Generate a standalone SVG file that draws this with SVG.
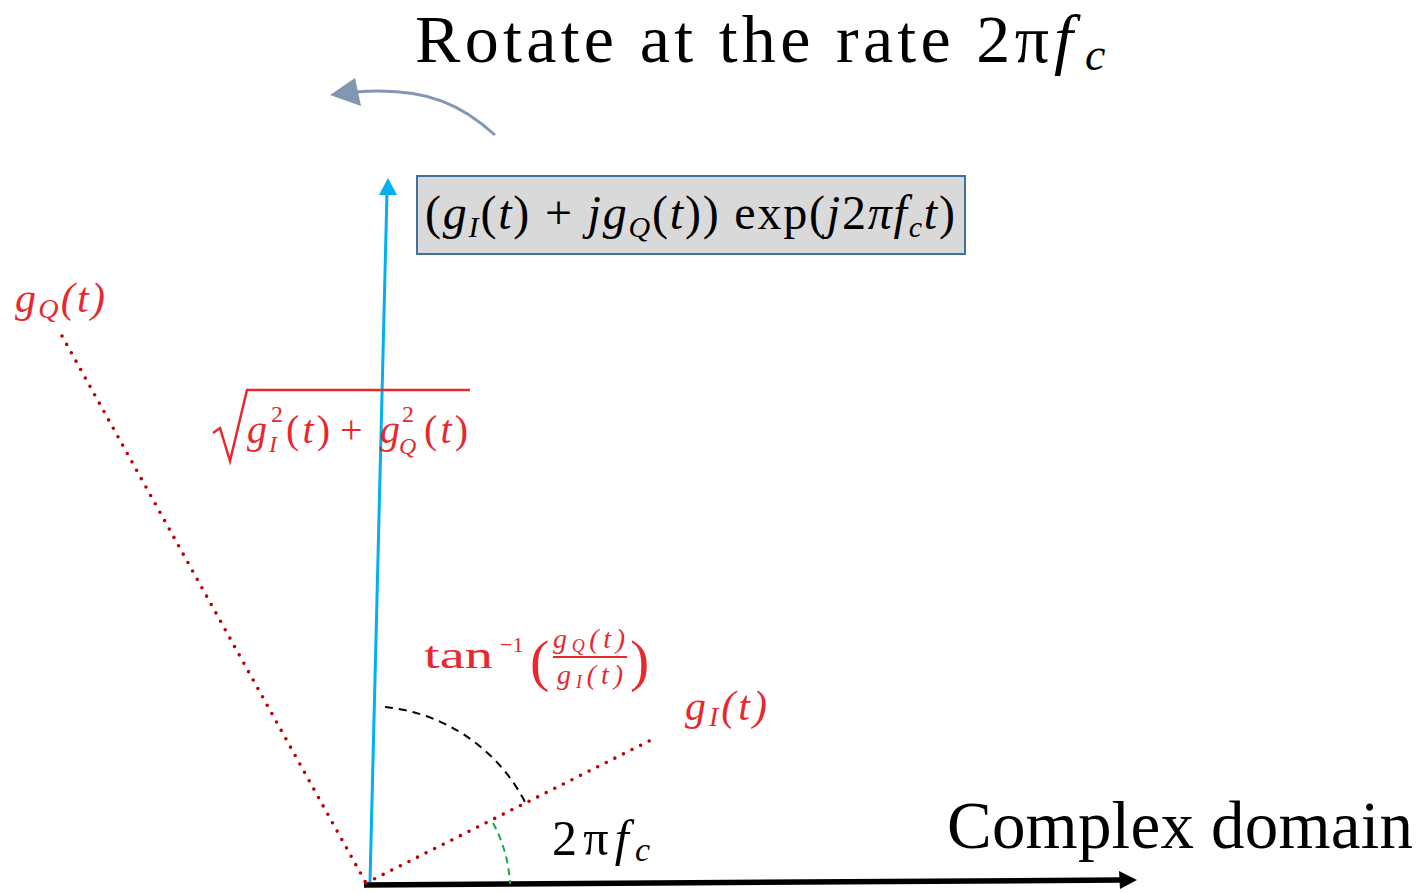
<svg xmlns="http://www.w3.org/2000/svg" width="1425" height="893" viewBox="0 0 1425 893">
<style>
.serif{font-family:"Liberation Serif","Times New Roman",serif;}
.it{font-style:italic;}
.red{fill:#e8282e;}
.blk{fill:#000;}
.dot{fill:none;stroke:#c00000;stroke-width:3.6;stroke-linecap:round;stroke-dasharray:0 9.6;}
</style>
<rect width="1425" height="893" fill="#fff"/>
<g id="connectors">
  <path id="rotate-arrow" d="M495,135 C465,108 430,86 356,92" fill="none" stroke="#8497b0" stroke-width="3"/>
  <polygon points="330,95 355,78 361,106" fill="#8497b0"/>
  <line x1="364" y1="885" x2="1121" y2="880" stroke="#000" stroke-width="5.5"/>
  <polygon points="1137,880 1119,871 1120,889" fill="#000"/>
  <line x1="370" y1="882" x2="387" y2="192" stroke="#00b0f0" stroke-width="3"/>
  <polygon points="388,178 379,195 397,195" fill="#00b0f0"/>
  <line class="dot" x1="62" y1="336" x2="366" y2="883"/>
  <line class="dot" x1="366" y1="883" x2="655" y2="738"/>
  <path d="M385,707 A177,177 0 0 1 525,802" fill="none" stroke="#000" stroke-width="2" stroke-dasharray="8 6"/>
  <path d="M493,823 A142,142 0 0 1 510,884" fill="none" stroke="#1aaa4a" stroke-width="2" stroke-dasharray="7 5"/>
</g>
<g id="title">
  <text class="serif blk" x="415" y="62" font-size="68" textLength="634" lengthAdjust="spacing">Rotate at the rate 2π</text>
  <text class="serif blk it" x="1054" y="62" font-size="68">f</text>
  <text class="serif blk it" x="1085" y="70" font-size="46">c</text>
</g>
<g id="expr-box">
  <rect x="417" y="176" width="548" height="78" fill="#d9d9d9" stroke="#41719c" stroke-width="2"/>
  <text class="serif blk" x="425" y="229" font-size="48" textLength="530" lengthAdjust="spacing">(<tspan class="it">g</tspan><tspan class="it" font-size="30" dy="8">I</tspan><tspan dy="-8">(</tspan><tspan class="it">t</tspan>) + <tspan class="it">jg</tspan><tspan class="it" font-size="30" dy="8">Q</tspan><tspan dy="-8">(</tspan><tspan class="it">t</tspan>)) exp(<tspan class="it">j</tspan>2<tspan class="it">πf</tspan><tspan class="it" font-size="30" dy="8">c</tspan><tspan class="it" dy="-8">t</tspan>)</text>
</g>
<g id="gq-label">
  <text class="serif red it" x="15" y="312" font-size="42" textLength="90" lengthAdjust="spacing">g<tspan font-size="28" dy="6">Q</tspan><tspan dy="-6">(t)</tspan></text>
</g>
<g id="magnitude-label">
  <path d="M213,433 L220,428 L230,461 L247,390 L470,390" fill="none" stroke="#e8282e" stroke-width="2.5"/>
  <text class="serif red it" x="247" y="443" font-size="40">g</text>
  <text class="serif red" x="271" y="422" font-size="24">2</text>
  <text class="serif red it" x="269" y="452" font-size="24">I</text>
  <text class="serif red" x="286" y="443" font-size="40" textLength="44" lengthAdjust="spacing">(<tspan class="it">t</tspan>)</text>
  <text class="serif red" x="340" y="443" font-size="40">+</text>
  <text class="serif red it" x="380" y="443" font-size="40">g</text>
  <text class="serif red" x="402" y="422" font-size="24">2</text>
  <text class="serif red it" x="399" y="454" font-size="24">Q</text>
  <text class="serif red" x="424" y="443" font-size="40" textLength="44" lengthAdjust="spacing">(<tspan class="it">t</tspan>)</text>
</g>
<g id="angle-label">
  <text class="serif red" x="424" y="668" font-size="38" textLength="69" lengthAdjust="spacingAndGlyphs">tan</text>
  <text class="serif red" x="500" y="652" font-size="22">−1</text>
  <text class="serif red" x="530" y="680" font-size="58">(</text>
  <text class="serif red it" x="553" y="648" font-size="28" textLength="72" lengthAdjust="spacing">g<tspan font-size="18" dy="4">Q</tspan><tspan dy="-4">(t)</tspan></text>
  <line x1="553" y1="657" x2="627" y2="657" stroke="#e8282e" stroke-width="2"/>
  <text class="serif red it" x="557" y="684" font-size="28" textLength="66" lengthAdjust="spacing">g<tspan font-size="18" dy="4">I</tspan><tspan dy="-4">(t)</tspan></text>
  <text class="serif red" x="630" y="680" font-size="58">)</text>
</g>
<g id="gi-label">
  <text class="serif red it" x="685" y="720" font-size="42" textLength="82" lengthAdjust="spacing">g<tspan font-size="28" dy="6">I</tspan><tspan dy="-6">(t)</tspan></text>
</g>
<g id="rate-label">
  <text class="serif blk" x="552" y="855" font-size="50" textLength="98" lengthAdjust="spacing">2π<tspan class="it">f</tspan><tspan class="it" font-size="34" dy="6">c</tspan></text>
</g>
<g id="axis-label">
  <text class="serif blk" x="947" y="848" font-size="67" textLength="466" lengthAdjust="spacing">Complex domain</text>
</g>
</svg>
